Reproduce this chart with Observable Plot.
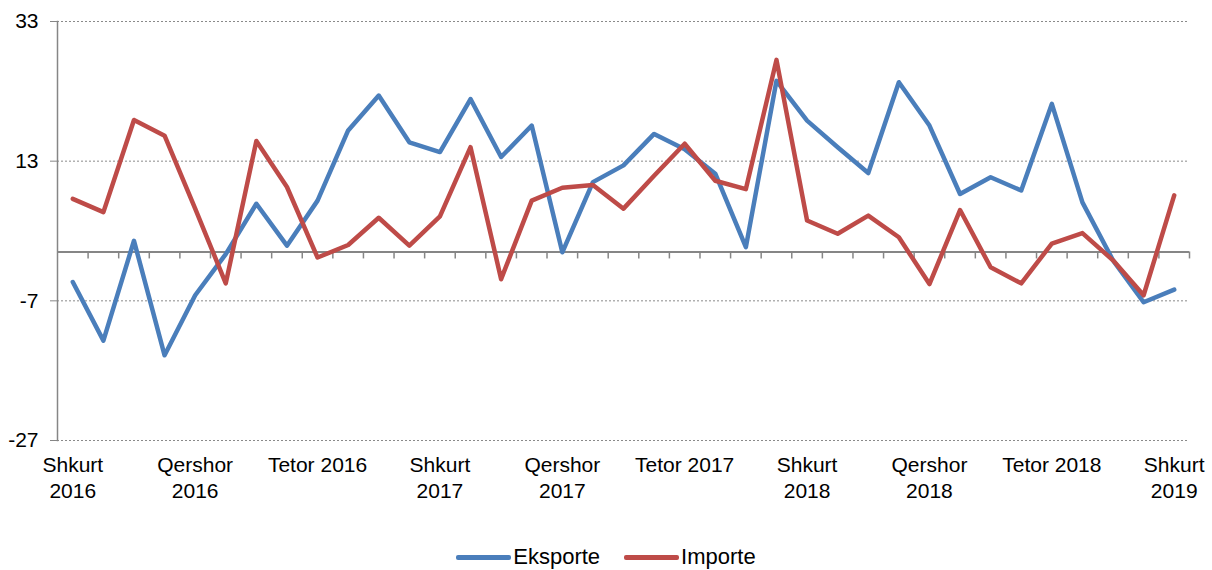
<!DOCTYPE html>
<html><head><meta charset="utf-8">
<script src="https://cdn.jsdelivr.net/npm/d3@7"></script>
<script src="https://cdn.jsdelivr.net/npm/@observablehq/plot@0.6"></script>
<style>
body{margin:0;background:#fff;font-family:"Liberation Sans",Arial,sans-serif;}
#chart{position:absolute;left:0;top:0;}
#legend{position:absolute;left:0;top:545px;width:1212px;height:24px;display:flex;justify-content:center;align-items:center;font-size:22px;color:#000;}
.item{display:flex;align-items:center;margin:0 12px;}
.sw{display:inline-block;width:55px;height:5px;margin-right:2px;border-radius:2px;}
</style></head><body><div id="chart"></div><div id="legend"></div>
<script>
const periods = ["Shkurt 2016","Mars 2016","Prill 2016","Maj 2016","Qershor 2016","Korrik 2016","Gusht 2016","Shtator 2016","Tetor 2016","Nëntor 2016","Dhjetor 2016","Janar 2017",
  "Shkurt 2017","Mars 2017","Prill 2017","Maj 2017","Qershor 2017","Korrik 2017","Gusht 2017","Shtator 2017","Tetor 2017","Nëntor 2017","Dhjetor 2017","Janar 2018",
  "Shkurt 2018","Mars 2018","Prill 2018","Maj 2018","Qershor 2018","Korrik 2018","Gusht 2018","Shtator 2018","Tetor 2018","Nëntor 2018","Dhjetor 2018","Janar 2019","Shkurt 2019"];
const eksporte = [-4.3,-12.7,1.6,-14.8,-6.2,-0.3,6.9,0.9,7.35,17.4,22.4,15.7,
  14.3,21.9,13.6,18.1,-0.05,10,12.4,16.9,14.7,11.2,0.7,24.5,
  18.8,15,11.3,24.3,18.1,8.3,10.7,8.8,21.2,7.1,-1.2,-7.2,-5.4];
const importe = [7.6,5.7,18.9,16.65,6.2,-4.5,15.9,9.3,-0.8,1,4.9,0.9,
  5.1,15,-3.9,7.35,9.2,9.6,6.2,10.9,15.5,10.2,9,27.5,
  4.5,2.6,5.2,2.1,-4.6,6,-2.2,-4.5,1.2,2.7,-1.2,-6.2,8.1];
const seriesNames = ["Eksporte","Importe"];
const seriesColors = ["#4a7ebb","#be4b48"];
const yTicks = [-27,-7,13,33];
const tickIndex = [0,4,8,12,16,20,24,28,32,36];
const tickLabels = ["Shkurt\n2016","Qershor\n2016","Tetor 2016","Shkurt\n2017","Qershor\n2017","Tetor 2017","Shkurt\n2018","Qershor\n2018","Tetor 2018","Shkurt\n2019"];

const data = [];
periods.forEach((p,i)=>{
  data.push({i, period:p, value:eksporte[i], series:"Eksporte"});
});
periods.forEach((p,i)=>{
  data.push({i, period:p, value:importe[i], series:"Importe"});
});
const boundaries = d3.range(0, periods.length).map(i => i + 0.5);

const plot = Plot.plot({
  width:1212, height:520,
  marginTop:21, marginBottom:80, marginLeft:57, marginRight:23,
  style:{fontSize:"21px", fontFamily:"'Liberation Sans', Arial, sans-serif", color:"#000", background:"#fff", overflow:"visible"},
  x:{domain:[-0.5, periods.length - 0.5]},
  y:{domain:[-27,33]},
  color:{domain:seriesNames, range:seriesColors},
  marks:[
    Plot.gridY(yTicks,{stroke:"#8a8a8a", strokeOpacity:1, strokeDasharray:"2,2", strokeWidth:1}),
    Plot.frame({anchor:"left", stroke:"#868686", strokeWidth:1.5}),
    Plot.axisY(yTicks,{tickSize:7, tickPadding:12, stroke:"#868686", label:null, tickFormat:d=>String(d)}),
    Plot.axisX(tickIndex,{tickSize:0, tickPadding:14, label:null, lineHeight:1.2, tickFormat:d=>tickLabels[tickIndex.indexOf(d)]}),
    Plot.ruleY([0],{stroke:"#868686", strokeWidth:2}),
    Plot.ruleX(boundaries,{y1:0, y2:-1, stroke:"#868686", strokeWidth:1.5}),
    Plot.line(data,{x:"i", y:"value", z:"series", stroke:"series", strokeWidth:4.5, strokeLinejoin:"round", strokeLinecap:"round"})
  ]
});
document.getElementById("chart").appendChild(plot);

const legend = document.getElementById("legend");
seriesNames.forEach((n,k)=>{
  const it = document.createElement("div"); it.className="item";
  const sw = document.createElement("span"); sw.className="sw"; sw.style.background=seriesColors[k];
  const t = document.createElement("span"); t.textContent=n;
  it.appendChild(sw); it.appendChild(t); legend.appendChild(it);
});
</script></body></html>
